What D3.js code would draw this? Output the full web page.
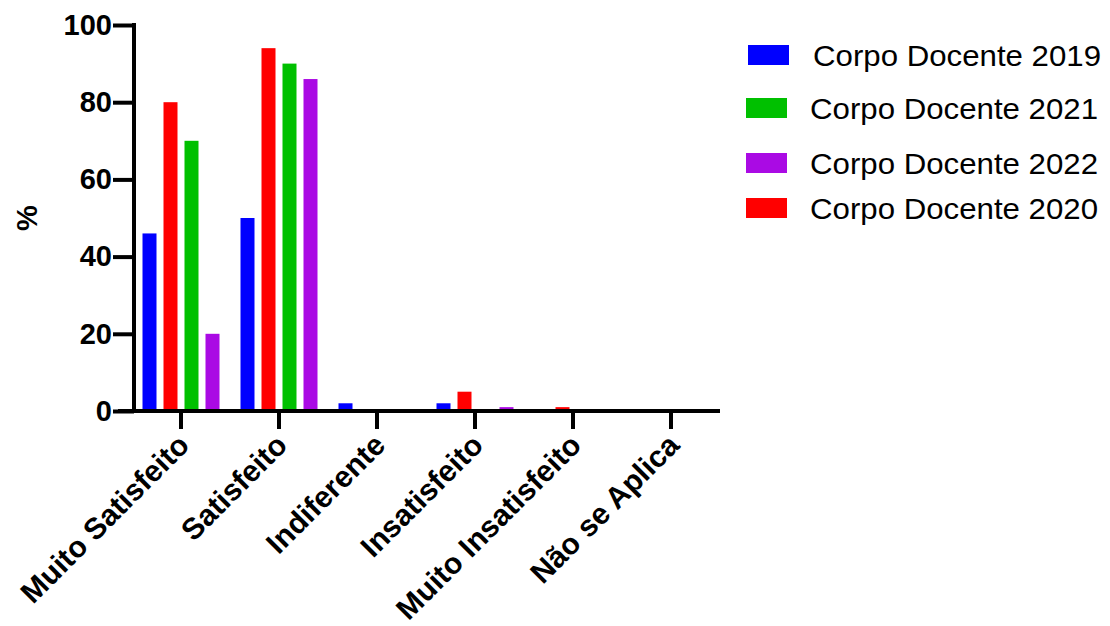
<!DOCTYPE html>
<html>
<head>
<meta charset="utf-8">
<script src="https://cdn.jsdelivr.net/npm/d3@7"></script>
<style>
  html, body { margin: 0; padding: 0; background: #fff; }
  svg { display: block; font-family: "Liberation Sans", Arial, sans-serif; }
</style>
</head>
<body>
<svg id="chart" width="1110" height="626"></svg>
<script>
// ---- data ----
const categories = ["Muito Satisfeito", "Satisfeito", "Indiferente", "Insatisfeito", "Muito Insatisfeito", "Não se Aplica"];
const seriesNames = ["Corpo Docente 2019", "Corpo Docente 2020", "Corpo Docente 2021", "Corpo Docente 2022"];
const values2019 = [46, 50, 2, 2, 0, 0];
const values2020 = [80, 94, 0, 5, 1, 0];
const values2021 = [70, 90, 0, 0, 0, 0];
const values2022 = [20, 86, 0, 1, 0, 0];
const legendOrder = ["Corpo Docente 2019", "Corpo Docente 2021", "Corpo Docente 2022", "Corpo Docente 2020"];
const yTicks = [0, 20, 40, 60, 80, 100];
const yLabel = "%";

const seriesValues = {
  "Corpo Docente 2019": values2019,
  "Corpo Docente 2020": values2020,
  "Corpo Docente 2021": values2021,
  "Corpo Docente 2022": values2022
};
const colors = {
  "Corpo Docente 2019": "#0000ff",
  "Corpo Docente 2020": "#ff0000",
  "Corpo Docente 2021": "#00c000",
  "Corpo Docente 2022": "#aa0ae4"
};

const svg = d3.select("#chart");

const x0 = d3.scaleBand().domain(categories).range([132, 720]).paddingInner(0).paddingOuter(0);
const x1 = d3.scaleBand().domain(seriesNames).range([-42, 42]).paddingInner(1/3).paddingOuter(1/6);
const y = d3.scaleLinear().domain([0, 100]).range([411, 25]);

// bars
const groups = svg.append("g").selectAll("g")
  .data(categories)
  .join("g")
  .attr("transform", d => `translate(${x0(d) + x0.bandwidth() / 2},0)`);

groups.selectAll("rect")
  .data((c, i) => seriesNames.map(s => ({ s, v: seriesValues[s][i] })))
  .join("rect")
  .attr("x", d => x1(d.s))
  .attr("width", x1.bandwidth())
  .attr("y", d => y(d.v))
  .attr("height", d => y(0) - y(d.v))
  .attr("fill", d => colors[d.s]);

// y axis
const yAxis = d3.axisLeft(y).tickValues(yTicks).tickSize(21).tickPadding(1).tickFormat(d3.format("d"));
const gy = svg.append("g").attr("transform", "translate(134,0)").call(yAxis);
gy.select(".domain").attr("d", `M0,${y(100) - 2}V${y(0) + 2}`).attr("stroke", "#000").attr("stroke-width", 4);
gy.selectAll(".tick line").attr("stroke", "#000").attr("stroke-width", 4);
gy.selectAll(".tick text").attr("font-size", 29).attr("font-weight", "bold").attr("fill", "#000");

// x axis
const xAxis = d3.axisBottom(x0).tickSize(18).tickFormat(() => "");
const gx = svg.append("g").attr("transform", `translate(0,${y(0)})`).call(xAxis);
gx.select(".domain").attr("d", "M118,0H720").attr("stroke", "#000").attr("stroke-width", 4);
gx.selectAll(".tick line").attr("stroke", "#000").attr("stroke-width", 4);

// category labels rotated
svg.append("g").selectAll("text")
  .data(categories)
  .join("text")
  .attr("transform", d => `translate(${x0(d) + x0.bandwidth() / 2 + 10},${y(0) + 36}) rotate(-45)`)
  .attr("text-anchor", "end")
  .attr("font-size", 30)
  .attr("font-weight", "bold")
  .attr("fill", "#000")
  .text(d => d);

// y label
svg.append("text")
  .attr("transform", `translate(37,218) rotate(-90)`)
  .attr("text-anchor", "middle")
  .attr("font-size", 29)
  .attr("font-weight", "bold")
  .text(yLabel);

// legend
const legendY = { "Corpo Docente 2019": 55, "Corpo Docente 2021": 108, "Corpo Docente 2022": 163, "Corpo Docente 2020": 208 };
const lg = svg.append("g").selectAll("g").data(legendOrder).join("g")
  .attr("transform", d => `translate(${d === "Corpo Docente 2019" ? 748 : 746},${legendY[d]})`);
lg.append("rect").attr("x", 0).attr("y", -10).attr("width", 41).attr("height", 20).attr("fill", d => colors[d]);
lg.append("text")
  .attr("x", d => d === "Corpo Docente 2019" ? 65 : 64)
  .attr("y", 0)
  .attr("dy", "0.35em")
  .attr("font-size", 30)
  .attr("textLength", 288)
  .attr("lengthAdjust", "spacingAndGlyphs")
  .attr("fill", "#000")
  .text(d => d);
</script>
</body>
</html>
